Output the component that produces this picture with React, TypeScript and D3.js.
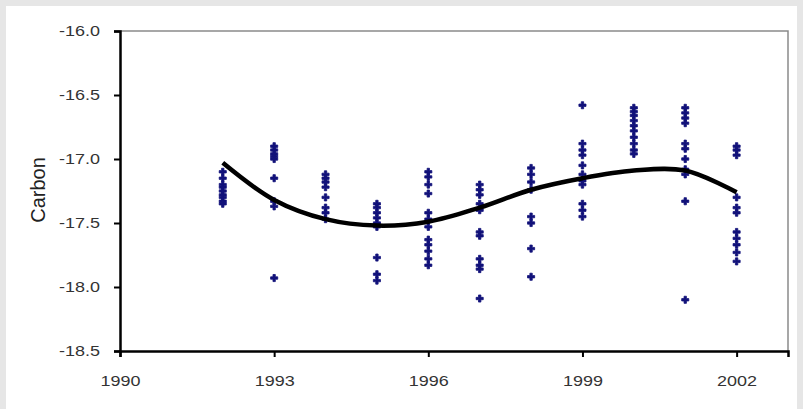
import React, { useEffect, useRef } from 'react'
import * as d3 from 'd3'

// observed carbon values, one list per year
const years = [1992, 1993, 1994, 1995, 1996, 1997, 1998, 1999, 2000, 2001, 2002]
const carbonByYear = [
  [-17.1, -17.15, -17.2, -17.22, -17.25, -17.28, -17.3, -17.33, -17.35],
  [-16.9, -16.93, -16.96, -16.98, -17.0, -17.15, -17.33, -17.37, -17.93],
  [-17.12, -17.15, -17.18, -17.22, -17.3, -17.38, -17.42, -17.47],
  [-17.35, -17.38, -17.42, -17.46, -17.5, -17.53, -17.77, -17.9, -17.95],
  [-17.1, -17.14, -17.2, -17.27, -17.42, -17.47, -17.53, -17.63, -17.67, -17.72, -17.78, -17.83],
  [-17.2, -17.24, -17.28, -17.35, -17.4, -17.57, -17.6, -17.78, -17.83, -17.86, -18.09],
  [-17.07, -17.12, -17.18, -17.24, -17.45, -17.5, -17.7, -17.92],
  [-16.58, -16.88, -16.93, -16.97, -17.05, -17.12, -17.17, -17.2, -17.35, -17.4, -17.45],
  [-16.6, -16.63, -16.66, -16.7, -16.74, -16.78, -16.83, -16.88, -16.93, -16.96],
  [-16.6, -16.64, -16.68, -16.72, -16.88, -16.92, -17.0, -17.08, -17.12, -17.33, -18.1],
  [-16.9, -16.93, -16.97, -17.3, -17.38, -17.42, -17.57, -17.62, -17.67, -17.73, -17.8],
]

// fitted trend line
const trendYears = [1992, 1993, 1994, 1995, 1996, 1997, 1998, 1999, 2000, 2001, 2002]
const trendValues = [-17.03, -17.32, -17.47, -17.52, -17.49, -17.38, -17.24, -17.15, -17.09, -17.09, -17.26]

const xTicks = [1990, 1993, 1996, 1999, 2002]
const yTicks = [-16.0, -16.5, -17.0, -17.5, -18.0, -18.5]

export default function App() {
  const ref = useRef<SVGSVGElement>(null)

  useEffect(() => {
    const width = 803, height = 409
    const margin = { top: 31, right: 15, bottom: 58, left: 120 }
    const svg = d3.select(ref.current)
    svg.selectAll('*').remove()

    const x = d3.scaleLinear([1990, 2003], [margin.left, width - margin.right])
    const y = d3.scaleLinear([-18.5, -16.0], [height - margin.bottom, margin.top])

    // page background + panel
    svg.append('rect').attr('width', width).attr('height', height).attr('fill', '#e6e6e6')
    svg.append('rect').attr('x', 6).attr('y', 6).attr('width', 791).attr('height', height - 6).attr('fill', '#fff')

    // plot frame (top/right in gray)
    svg.append('path')
      .attr('d', `M${x(1990)},${y(-16)}H${x(2003)}V${y(-18.5)}`)
      .attr('fill', 'none').attr('stroke', '#8a8a8a').attr('stroke-width', 1.5)

    const points = years.flatMap((yr, i) => carbonByYear[i].map(v => ({ yr, v })))
    svg.append('g')
      .selectAll('path')
      .data(points)
      .join('path')
      .attr('d', d3.symbol(d3.symbolCross, 28))
      .attr('transform', d => `translate(${x(d.yr)},${y(d.v)})`)
      .attr('fill', '#12127a')
      .attr('stroke', '#12127a')
      .attr('stroke-width', 0.8)
      .attr('stroke-linejoin', 'round')

    const line = d3.line<number>()
      .x((d, i) => x(trendYears[i]))
      .y(d => y(d))
      .curve(d3.curveCatmullRom)
    svg.append('path')
      .datum(trendValues)
      .attr('d', line)
      .attr('fill', 'none')
      .attr('stroke', '#000')
      .attr('stroke-width', 4.5)

    const font = 'Liberation Sans, Arial, sans-serif'

    svg.append('g')
      .attr('transform', `translate(0,${y(-18.5)})`)
      .call(d3.axisBottom(x).tickValues(xTicks).tickFormat(d3.format('d')).tickSize(6).tickPadding(18))
      .call(g => g.select('.domain').attr('stroke', '#000').attr('stroke-width', 2.5))
      .call(g => g.selectAll('.tick line').attr('stroke', '#000').attr('stroke-width', 2))
      .call(g => g.selectAll('.tick text').attr('font-family', font).attr('font-size', 15)
        .attr('fill', '#333').attr('textLength', 40).attr('lengthAdjust', 'spacingAndGlyphs'))

    svg.append('g')
      .attr('transform', `translate(${x(1990)},0)`)
      .call(d3.axisLeft(y).tickValues(yTicks).tickFormat(d => d3.format('.1f')(d as number).replace('−', '-')).tickSize(6).tickPadding(14))
      .call(g => g.select('.domain').attr('stroke', '#000').attr('stroke-width', 2.5))
      .call(g => g.selectAll('.tick line').attr('stroke', '#000').attr('stroke-width', 2))
      .call(g => g.selectAll('.tick text').attr('font-family', font).attr('font-size', 15)
        .attr('fill', '#333').attr('textLength', 41).attr('lengthAdjust', 'spacingAndGlyphs'))

    svg.append('text')
      .attr('transform', `translate(40,190) rotate(-90)`)
      .attr('text-anchor', 'middle')
      .attr('dominant-baseline', 'middle')
      .attr('font-family', font)
      .attr('font-size', 20)
      .attr('fill', '#222')
      .text('Carbon')
  }, [])

  return (
    <div style={{ position: 'absolute', left: 0, top: 0 }}>
      <svg ref={ref} width={803} height={409} style={{ display: 'block' }} />
    </div>
  )
}
